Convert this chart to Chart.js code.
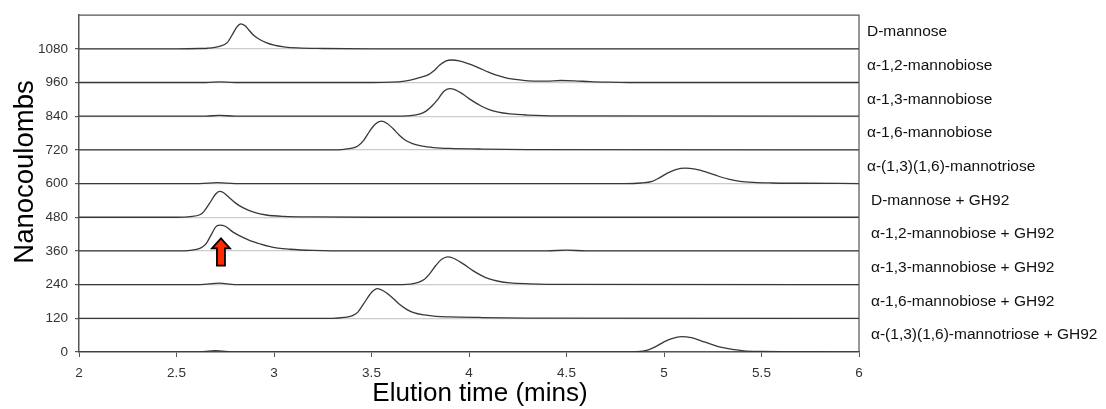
<!DOCTYPE html>
<html lang="en">
<head>
    <meta charset="UTF-8">
    <title>Elution profiles</title>
    <style>
        body {
            margin: 0;
            padding: 0;
            background: #ffffff;
        }
        #wrap {
            width: 1106px;
            height: 409px;
        }
    </style>
</head>
<body>
    <div id="wrap">
        <canvas id="chart" width="1106" height="409"></canvas>
    </div>
    <script src="https://cdn.jsdelivr.net/npm/chart.js"></script>
    <script>
        // trace names (top to bottom) and the baseline each trace is offset to
        const names = [
            'D-mannose',
            'α-1,2-mannobiose',
            'α-1,3-mannobiose',
            'α-1,6-mannobiose',
            'α-(1,3)(1,6)-mannotriose',
            'D-mannose + GH92',
            'α-1,2-mannobiose + GH92',
            'α-1,3-mannobiose + GH92',
            'α-1,6-mannobiose + GH92',
            'α-(1,3)(1,6)-mannotriose + GH92'
        ];
        const baselines = [1080, 960, 840, 720, 600, 480, 360, 240, 120, 0];

        // elution time (mins) and signal above baseline (nC)
        const dManT = [2, 2.5, 2.62, 2.66, 2.72, 2.76, 2.79, 2.81, 2.83, 2.85, 2.87, 2.89, 2.92, 2.96, 3.0, 3.05, 3.12, 3.25, 3.5, 6];
        const dManV = [0, 0, 1, 2, 9, 22, 55, 78, 89, 83, 68, 52, 36, 22, 13, 7, 3, 1, 0, 0];

        const m12T = [2, 2.65, 2.72, 2.8, 3.5, 3.6, 3.67, 3.72, 3.76, 3.79, 3.82, 3.85, 3.88, 3.91, 3.95, 4.0, 4.05, 4.1, 4.15, 4.2, 4.26, 4.33, 4.4, 4.47, 4.54, 4.62, 4.72, 4.82, 6];
        const m12V = [0, 0, 2, 0, 0, 1, 5, 12, 20, 27, 42, 62, 76, 80, 77, 66, 52, 37, 24, 15, 9, 5, 5, 7, 6, 3, 1, 0, 0];

        const m13T = [2, 2.65, 2.72, 2.8, 3.6, 3.7, 3.75, 3.78, 3.81, 3.84, 3.87, 3.9, 3.93, 3.97, 4.01, 4.06, 4.1, 4.15, 4.21, 4.3, 4.45, 6];
        const m13V = [0, 0, 3, 0, 0, 2, 8, 18, 36, 60, 88, 98, 94, 78, 58, 37, 24, 14, 8, 4, 1, 0];

        const m16T = [2, 3.3, 3.36, 3.4, 3.43, 3.46, 3.49, 3.52, 3.55, 3.58, 3.61, 3.64, 3.67, 3.71, 3.76, 3.82, 3.9, 4.05, 4.3, 6];
        const m16V = [0, 0, 2, 6, 14, 34, 66, 92, 102, 94, 76, 54, 36, 22, 13, 8, 5, 3, 1, 0];

        const triT = [2, 2.62, 2.71, 2.8, 4.8, 4.88, 4.94, 4.98, 5.02, 5.06, 5.11, 5.16, 5.22, 5.28, 5.33, 5.39, 5.46, 5.55, 5.7, 6];
        const triV = [0, 0, 3, 0, 0, 2, 8, 22, 38, 50, 55, 51, 40, 26, 16, 8, 4, 2, 1, 0];

        const dManGhT = [2, 2.5, 2.57, 2.62, 2.64, 2.67, 2.7, 2.72, 2.74, 2.77, 2.8, 2.84, 2.9, 2.96, 3.05, 3.2, 3.5, 6];
        const dManGhV = [0, 0, 2, 9, 20, 50, 82, 92, 88, 70, 52, 34, 17, 8, 3, 1, 0, 0];

        const m12GhT = [2, 2.5, 2.57, 2.62, 2.65, 2.68, 2.7, 2.72, 2.75, 2.79, 2.84, 2.88, 2.93, 2.97, 3.02, 3.08, 3.2, 3.4, 4.4, 4.5, 4.6, 6];
        const m12GhV = [0, 0, 2, 9, 24, 60, 85, 92, 88, 67, 48, 36, 25, 17, 10, 6, 2, 0, 0, 3, 0, 0];

        const m13GhT = [2, 2.62, 2.72, 2.8, 3.6, 3.7, 3.74, 3.77, 3.8, 3.83, 3.86, 3.89, 3.92, 3.97, 4.02, 4.06, 4.1, 4.15, 4.21, 4.31, 4.5, 6];
        const m13GhV = [0, 0, 5, 0, 0, 2, 8, 18, 40, 68, 90, 99, 94, 74, 50, 34, 21, 12, 6, 3, 1, 0];

        const m16GhT = [2, 3.3, 3.36, 3.4, 3.43, 3.46, 3.5, 3.53, 3.56, 3.6, 3.64, 3.68, 3.72, 3.77, 3.83, 3.9, 4.05, 4.3, 6];
        const m16GhV = [0, 0, 3, 9, 22, 52, 92, 106, 98, 78, 52, 32, 19, 12, 7, 5, 3, 1, 0];

        const triGhT = [2, 2.6, 2.7, 2.8, 4.8, 4.86, 4.92, 4.96, 5.0, 5.04, 5.09, 5.14, 5.19, 5.24, 5.29, 5.35, 5.41, 5.5, 5.6, 6];
        const triGhV = [0, 0, 5, 0, 0, 1, 8, 20, 36, 48, 55, 51, 40, 28, 17, 9, 4, 2, 1, 0];

        const traceTimes = [dManT, m12T, m13T, m16T, triT, dManGhT, m12GhT, m13GhT, m16GhT, triGhT];
        const traceValues = [dManV, m12V, m13V, m16V, triV, dManGhV, m12GhV, m13GhV, m16GhV, triGhV];

        // axis ticks
        const xTicks = [2, 2.5, 3, 3.5, 4, 4.5, 5, 5.5, 6];
        const yTicks = [0, 120, 240, 360, 480, 600, 720, 840, 960, 1080];

        // red arrow under the α-1,2-mannobiose + GH92 peak (time, tip, tail in nC)
        const arrowTime = 2.728;
        const arrowTip = 405;
        const arrowTail = 308;

        const FONT = '"Liberation Sans", Arial, sans-serif';

        const datasets = names.map((name, i) => ({
            label: name,
            data: traceTimes[i].map((t, j) => ({ x: t, y: baselines[i] + traceValues[i][j] })),
            borderColor: '#383838',
            borderWidth: 1.3,
            pointRadius: 0,
            fill: false,
            cubicInterpolationMode: 'monotone'
        }));

        const extras = {
            id: 'extras',
            afterDraw(chart) {
                const ctx = chart.ctx;
                const area = chart.chartArea;
                const xs = chart.scales.x;
                const ys = chart.scales.y;
                ctx.save();

                // top and right frame
                ctx.strokeStyle = '#555';
                ctx.lineWidth = 1.2;
                ctx.beginPath();
                ctx.moveTo(area.left, area.top);
                ctx.lineTo(area.right, area.top);
                ctx.lineTo(area.right, area.bottom);
                ctx.stroke();

                // trace names on the right
                ctx.fillStyle = '#111';
                ctx.font = '15.5px ' + FONT;
                ctx.textAlign = 'left';
                ctx.textBaseline = 'middle';
                names.forEach((name, i) => {
                    const dx = i >= 5 ? 12 : 8;
                    ctx.fillText(name, area.right + dx, ys.getPixelForValue(baselines[i] + 60));
                });

                // arrow
                const ax = xs.getPixelForValue(arrowTime);
                const tip = ys.getPixelForValue(arrowTip);
                const tail = ys.getPixelForValue(arrowTail);
                ctx.beginPath();
                ctx.moveTo(ax, tip);
                ctx.lineTo(ax + 9, tip + 10);
                ctx.lineTo(ax + 4, tip + 10);
                ctx.lineTo(ax + 4, tail);
                ctx.lineTo(ax - 4, tail);
                ctx.lineTo(ax - 4, tip + 10);
                ctx.lineTo(ax - 9, tip + 10);
                ctx.closePath();
                ctx.fillStyle = '#ff2a00';
                ctx.fill();
                ctx.strokeStyle = '#000';
                ctx.lineWidth = 1.8;
                ctx.stroke();

                // axis titles
                ctx.fillStyle = '#000';
                ctx.font = '26px ' + FONT;
                ctx.textAlign = 'center';
                ctx.textBaseline = 'alphabetic';
                ctx.fillText('Elution time (mins)', 480, 401);

                ctx.translate(33, 172);
                ctx.rotate(-Math.PI / 2);
                ctx.font = '27.5px ' + FONT;
                ctx.fillText('Nanocoulombs', 0, 0);
                ctx.restore();
            }
        };

        new Chart(document.getElementById('chart'), {
            type: 'line',
            data: { datasets },
            options: {
                responsive: false,
                animation: false,
                events: [],
                layout: { padding: { left: 0, right: 247, top: 14, bottom: 0 } },
                plugins: {
                    legend: { display: false },
                    tooltip: { enabled: false }
                },
                scales: {
                    x: {
                        type: 'linear',
                        min: 2,
                        max: 6,
                        afterBuildTicks: (scale) => { scale.ticks = xTicks.map(v => ({ value: v })); },
                        afterFit: (scale) => { scale.height = 57; },
                        ticks: {
                            color: '#333',
                            font: { family: FONT, size: 13.5 },
                            padding: 8,
                            maxRotation: 0,
                            callback: (v) => String(v)
                        },
                        grid: {
                            drawOnChartArea: false,
                            drawTicks: true,
                            tickLength: 5,
                            tickColor: '#555'
                        },
                        border: { color: '#555', width: 1.5 }
                    },
                    y: {
                        min: 0,
                        max: 1200,
                        afterBuildTicks: (scale) => { scale.ticks = yTicks.map(v => ({ value: v })); },
                        afterFit: (scale) => { scale.width = 79; },
                        ticks: {
                            color: '#333',
                            font: { family: FONT, size: 13.5 },
                            padding: 7,
                            callback: (v) => String(v)
                        },
                        grid: {
                            color: '#cccccc',
                            lineWidth: 1.2,
                            drawTicks: true,
                            tickLength: 4,
                            tickColor: '#555'
                        },
                        border: { color: '#555', width: 1.5 }
                    }
                }
            },
            plugins: [extras]
        });
    </script>
</body>
</html>
